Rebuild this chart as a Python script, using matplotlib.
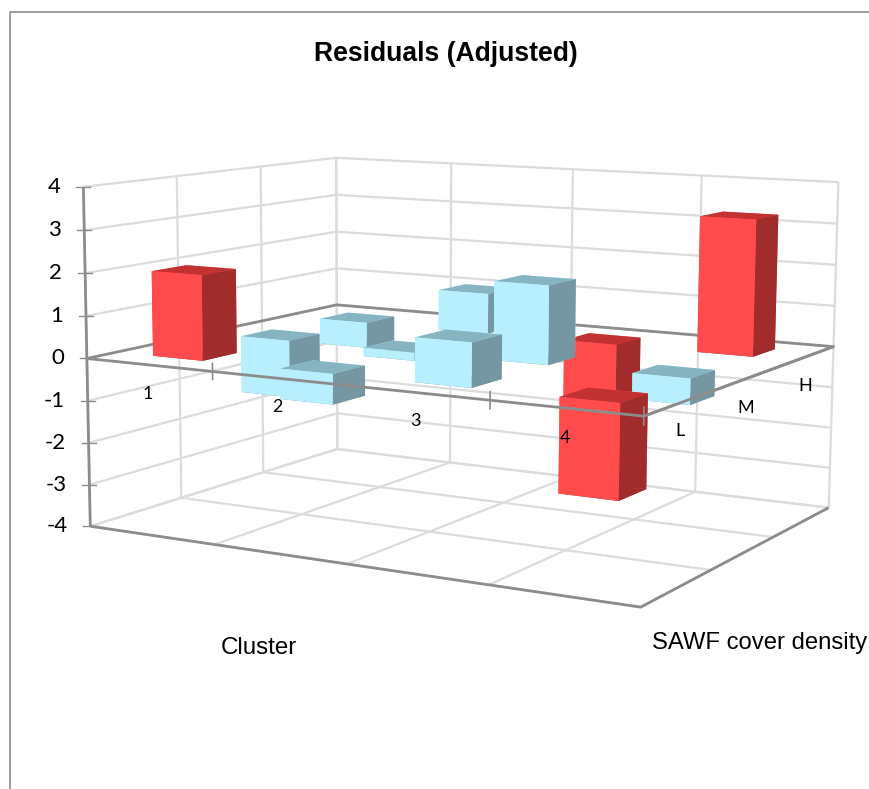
#!/bin/env python3
import numpy as np
import matplotlib
matplotlib.use('Agg')
import matplotlib.pyplot as plt
from matplotlib.lines import Line2D

clusters = ['1', '2', '3', '4']
densities = ['L', 'M', 'H']
z_ticks = [-4, -3, -2, -1, 0, 1, 2, 3, 4]
residuals = [[2.0, -1.4, -0.65],
             [-0.7, -0.2, 1.0],
             [1.0, 1.85, -2.3],
             [-2.1, -0.6, 3.25]]

W, H = 870, 789
fig = plt.figure(figsize=(W/100, H/100), dpi=100)
ax = fig.add_axes([0, 0, 1, 1], projection='3d')
ax.computed_zorder = False
ax.set_axis_off()

ax.set_xlim(0, 4); ax.set_ylim(0, 3); ax.set_zlim(-4, 4)

## camera fitted to the corners of the box in the picture
ax.view_init(elev=8.9531, azim=-60.6367, roll=-0.2969)
ax.set_proj_type('persp', focal_length=0.5438)
ax.set_box_aspect((1, 0.7551, 0.5598))
s, tx, ty = 4327.79, 468.09, 436.56
M = ax.get_proj()
xl = ax.viewLim.intervalx; yl = ax.viewLim.intervaly
L = s*(xl[1]-xl[0])
ax.set_position([(tx + s*xl[0])/W, (ty + s*yl[0])/H, L/W, L/H])

def grid_line(xs, ys, zs, color='#dcdcdc', lw=1.6, zo=1):
  ax.plot(xs, ys, zs, color=color, lw=lw, zorder=zo, solid_capstyle='butt')

## walls and floor
for z in z_ticks:
  grid_line([0, 0, 4], [0, 3, 3], [z, z, z])
for y in range(4):
  grid_line([0, 0], [y, y], [-4, 4])
  grid_line([0, 4], [y, y], [-4, -4])
for x in range(5):
  grid_line([x, x], [3, 3], [-4, 4])
  grid_line([x, x], [0, 3], [-4, -4])

axcol = '#8c8c8c'
grid_line([0, 0], [0, 0], [-4, 4], axcol, 2, 2)
grid_line([0, 4, 4], [0, 0, 3], [-4, -4, -4], axcol, 2, 2)
grid_line([0, 0, 4, 4], [0, 3, 3, 0], [0, 0, 0, 0], axcol, 2, 2)

## bars back to front
red = ['#a02c2c', '#c23232', '#ff4b4b', '#ff4b4b', '#ff4b4b', '#a02c2c']
blue = ['#7597a3', '#86b5c1', '#b7efff', '#b7efff', '#b7efff', '#7597a3']
bw, bd = 0.40, 0.38
zo = 3
for j in range(2, -1, -1):
  for i in range(4):
    v = residuals[i][j]
    cols = red if abs(v) >= 1.96 else blue
    ax.bar3d(i + 0.5 - bw/2, j + 0.5 - bd/2, min(v, 0), bw, bd, abs(v), color=cols, shade=False, zorder=zo)
    zo += 1

grid_line([0, 4, 4], [0, 0, 3], [0, 0, 0], axcol, 2, 50)
for x in range(1, 5):
  grid_line([x, x], [0, 0], [-0.2, 0.2], axcol, 1.2, 50)
ax.set_xlim(0, 4); ax.set_ylim(0, 3); ax.set_zlim(-4, 4)

def pix(x, y, z):
  v = M @ np.array([x, y, z, 1.])
  return s*v[0]/v[3] + tx, s*v[1]/v[3] + ty

for z in z_ticks:
  px, py = pix(0, 0, z)
  fig.add_artist(Line2D([(px-7)/W, (px+7)/W], [py/H, py/H], color=axcol, lw=1))
  fig.text((px-23)/W, py/H, str(z), family='Lato', fontsize=16, ha='right', va='center')

for lab, (px, py) in zip(clusters + densities, [(148,394),(277,407),(415,421),(565,438),(680,431),(746,408),(805,386)]):
  fig.text(px/W, 1 - py/H, lab, family='Lato', fontsize=13, ha='center', va='center', zorder=60)

fig.text(446/W, 1 - 54/H, 'Residuals (Adjusted)', family='Liberation Sans', weight='bold', fontsize=19.1, ha='center', va='center')
fig.text(259/W, 1 - 648/H, 'Cluster', family='Liberation Sans', fontsize=17.4, ha='center', va='center')
fig.text(760/W, 1 - 643/H, 'SAWF cover density', family='Liberation Sans', fontsize=17.2, ha='center', va='center')

fig.add_artist(Line2D([10/W, 10/W, 1], [0, 1 - 12/H, 1 - 12/H], color=axcol, lw=1.2))

fig.savefig('out.png', dpi=100)
plt.close()
